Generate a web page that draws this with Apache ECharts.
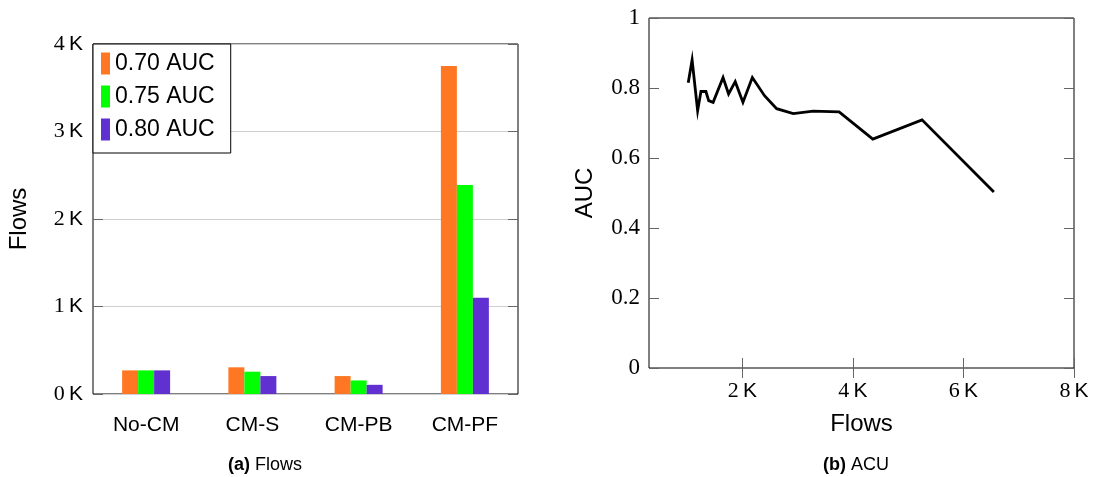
<!DOCTYPE html>
<html>
<head>
<meta charset="utf-8">
<script src="https://cdn.jsdelivr.net/npm/echarts@6/dist/echarts.min.js"></script>
<style>
  html, body { margin: 0; padding: 0; background: #fff; }
  #chart { width: 1096px; height: 477px; }
</style>
</head>
<body>
<div id="chart"></div>
<script>
// left panel: flows per method
const methods = ['No-CM', 'CM-S', 'CM-PB', 'CM-PF']
const auc70 = [270, 305, 205, 3750]
const auc75 = [270, 255, 155, 2390]
const auc80 = [270, 205, 105, 1100]
const barNames = ['0.70 AUC', '0.75 AUC', '0.80 AUC']
const barColors = ['#ff7722', '#00ff00', '#6030d0']

// right panel: AUC vs flows
const lineFlows = [1020, 1090, 1190, 1250, 1340, 1390, 1470, 1650, 1750, 1870,
  2010, 2180, 2400, 2620, 2920, 3280, 3750, 4360, 5250, 6550]
const lineAuc = [0.815, 0.88, 0.735, 0.79, 0.79, 0.764, 0.759, 0.83, 0.783, 0.818,
  0.759, 0.83, 0.778, 0.741, 0.727, 0.734, 0.732, 0.654, 0.709, 0.503]
const flowTicksB = [2000, 4000, 6000, 8000]

const serif = 'Liberation Serif'
const sans = 'Liberation Sans'
const kRich = {
  n: { fontFamily: serif, fontSize: 22, color: '#000' },
  k: { fontFamily: sans, fontSize: 21, color: '#000' }
}
const kFmt = v => `{n|${v / 1000}}{k|\u2009K}`

const chart = echarts.init(document.getElementById('chart'), null, { renderer: 'canvas' })

const tickStyle = { color: '#666', width: 1 }
const nameStyle = { fontFamily: sans, fontSize: 24, color: '#000' }
const capRich = { b: { fontWeight: 'bold', fontFamily: sans, fontSize: 18, fill: '#000' } }

chart.setOption({
  animation: false,
  grid: [
    { left: 93, top: 44, width: 425, height: 350, show: true, borderColor: '#000', borderWidth: 1, backgroundColor: 'transparent' },
    { left: 649, top: 18, width: 425, height: 350, show: true, borderColor: '#000', borderWidth: 1, backgroundColor: 'transparent' }
  ],
  legend: {
    left: 93,
    top: 44,
    orient: 'vertical',
    icon: 'rect',
    itemWidth: 9,
    itemHeight: 22,
    itemGap: 10,
    padding: [8, 16, 12, 8],
    backgroundColor: '#fff',
    borderColor: '#000',
    borderWidth: 1,
    borderRadius: 0,
    textStyle: { fontFamily: sans, fontSize: 23, color: '#000' },
    data: barNames
  },
  xAxis: [
    {
      type: 'category', gridIndex: 0, data: methods,
      axisLine: { show: false }, axisTick: { show: false },
      axisLabel: { fontFamily: sans, fontSize: 21, color: '#000', margin: 21 }
    },
    {
      type: 'value', gridIndex: 1, min: 310, max: 8000,
      name: 'Flows', nameLocation: 'middle', nameGap: 44,
      nameTextStyle: nameStyle,
      axisLine: { show: false },
      axisTick: { show: true, inside: true, length: 10, lineStyle: tickStyle, customValues: flowTicksB },
      axisLabel: { customValues: flowTicksB, formatter: kFmt, rich: kRich, margin: 12 },
      splitLine: { show: false }
    },
    {
      type: 'value', gridIndex: 1, min: 310, max: 8000, position: 'top',
      axisLine: { show: false },
      axisTick: { show: true, inside: true, length: 10, lineStyle: tickStyle, customValues: flowTicksB },
      axisLabel: { show: false, customValues: flowTicksB },
      splitLine: { show: false }
    }
  ],
  yAxis: [
    {
      type: 'value', gridIndex: 0, min: 0, max: 4000, interval: 1000,
      name: 'Flows', nameLocation: 'middle', nameGap: 62, nameRotate: 90,
      nameTextStyle: nameStyle,
      axisLine: { show: false },
      axisTick: { show: true, inside: true, length: 10, lineStyle: tickStyle },
      axisLabel: { formatter: kFmt, rich: kRich, margin: 10 },
      splitLine: { show: true, lineStyle: { color: '#cfcfcf', width: 1 } }
    },
    {
      type: 'value', gridIndex: 0, min: 0, max: 4000, interval: 1000, position: 'right',
      axisLine: { show: false },
      axisTick: { show: true, inside: true, length: 10, lineStyle: tickStyle },
      axisLabel: { show: false }, splitLine: { show: false }
    },
    {
      type: 'value', gridIndex: 1, min: 0, max: 1, interval: 0.2,
      name: 'AUC', nameLocation: 'middle', nameGap: 52, nameRotate: 90,
      nameTextStyle: nameStyle,
      axisLine: { show: false },
      axisTick: { show: true, inside: true, length: 10, lineStyle: tickStyle },
      axisLabel: {
        fontFamily: serif, fontSize: 23, color: '#000', margin: 9,
        formatter: v => (v === 0 || v === 1) ? String(v) : v.toFixed(1)
      },
      splitLine: { show: false }
    },
    {
      type: 'value', gridIndex: 1, min: 0, max: 1, interval: 0.2, position: 'right',
      axisLine: { show: false },
      axisTick: { show: true, inside: true, length: 10, lineStyle: tickStyle },
      axisLabel: { show: false }, splitLine: { show: false }
    }
  ],
  series: [
    ...[auc70, auc75, auc80].map((d, i) => ({
      type: 'bar', name: barNames[i], xAxisIndex: 0, yAxisIndex: 0,
      data: d, barWidth: 16, barGap: '0%',
      itemStyle: { color: barColors[i] }
    })),
    {
      type: 'line', xAxisIndex: 1, yAxisIndex: 2,
      data: lineFlows.map((f, i) => [f, lineAuc[i]]),
      symbol: 'none',
      lineStyle: { color: '#000', width: 2.8, join: 'miter' }
    }
  ],
  graphic: [
    {
      type: 'text', left: 228, top: 456,
      style: { text: '{b|(a)} Flows', font: `18px ${sans}`, fill: '#000', rich: capRich }
    },
    {
      type: 'text', left: 823, top: 456,
      style: { text: '{b|(b)} ACU', font: `18px ${sans}`, fill: '#000', rich: capRich }
    }
  ]
})
</script>
</body>
</html>
